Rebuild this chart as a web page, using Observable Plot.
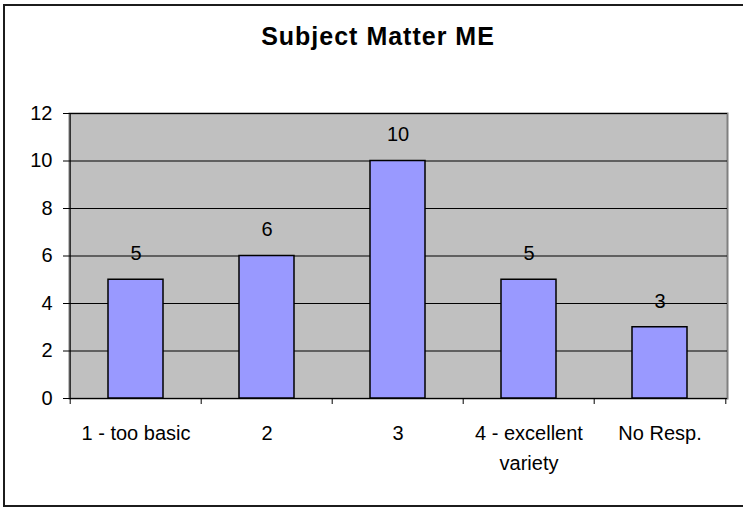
<!DOCTYPE html>
<html><head><meta charset="utf-8">
<script src="https://cdn.jsdelivr.net/npm/d3@7"></script>
<script src="https://cdn.jsdelivr.net/npm/@observablehq/plot@0.6"></script>
<style>
html,body{margin:0;padding:0;background:#fff;overflow:hidden}
#wrap{position:relative;width:743px;height:508px;overflow:hidden;font-family:"Liberation Sans",Arial,sans-serif}
#border{position:absolute;left:3px;top:4px;width:800px;height:503px;border:2px solid #1c1c1c;box-sizing:border-box}
#title{position:absolute;left:0;top:21px;width:756px;text-align:center;font-weight:bold;font-size:25px;line-height:30px;letter-spacing:1px;color:#000}
#chart{position:absolute;left:0;top:0}
</style></head>
<body><div id="wrap"><div id="border"></div><div id="title"></div><div id="chart"></div></div>
<script>
const title = "Subject Matter ME";
const categories = ["1 - too basic", "2", "3", "4 - excellent\nvariety", "No Resp."];
const counts = [5, 6, 10, 5, 3];
const yTicks = [0, 2, 4, 6, 8, 10, 12];

const table = categories.map((c, i) => ({c, v: counts[i]}));

const W = 743, H = 508, mL = 69, mR = 16, mT = 113, mB = 110;
const innerW = W - mL - mR, innerH = H - mT - mB;
const step = innerW / categories.length;

document.getElementById("title").textContent = title;

const chart = Plot.plot({
  width: W, height: H,
  marginLeft: mL, marginRight: mR, marginTop: mT, marginBottom: mB,
  style: {fontFamily: "'Liberation Sans', Arial, sans-serif", fontSize: "20px", color: "#000", background: "transparent"},
  x: {type: "band", domain: categories, paddingInner: 0.58, paddingOuter: 0.29, align: 0.5, axis: null},
  y: {domain: [0, 12], nice: false, axis: null},
  marks: [
    Plot.frame({fill: "#C0C0C0", stroke: "#808080", strokeWidth: 2}),
    Plot.gridY(yTicks, {stroke: "#000", strokeOpacity: 1, strokeWidth: 1}),
    Plot.ruleX([categories[0]], {x: d => d, dx: -step / 2, stroke: "#000", strokeWidth: 1}),
    Plot.ruleY([0], {stroke: "#000", strokeWidth: 1}),
    Plot.ruleX(categories, {x: d => d, dx: -step / 2, insetTop: innerH, insetBottom: -6, stroke: "#000"}),
    Plot.ruleX([categories[categories.length - 1]], {x: d => d, dx: step / 2, insetTop: innerH, insetBottom: -6, stroke: "#000"}),
    Plot.axisY({ticks: yTicks, tickSize: 6, tickPadding: 11, fontSize: 20, label: null, tickFormat: d => String(d), stroke: "#000"}),
    Plot.barY(table, {x: "c", y: "v", fill: "#9999FF", stroke: "#000", strokeWidth: 1.5}),
    Plot.text(table, {x: "c", y: "v", text: d => String(d.v), dy: -26, fontSize: 20, fill: "#000"}),
    Plot.text(categories, {x: d => d, frameAnchor: "bottom", lineAnchor: "top", dy: 20, lineHeight: 1.5, fontSize: 20, fill: "#000", ariaLabel: "cat-labels"})
  ]
});
d3.select(chart).selectAll('g[aria-label="cat-labels"]').attr("letter-spacing", "1.3px");
document.getElementById("chart").appendChild(chart);
</script>
</body></html>
